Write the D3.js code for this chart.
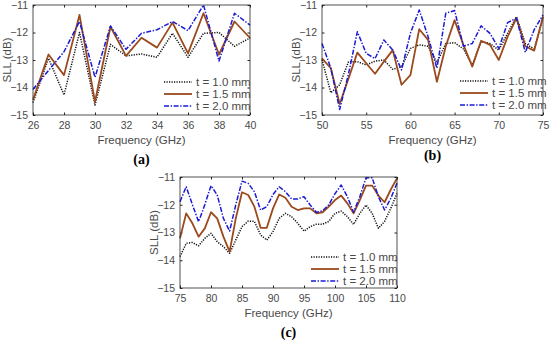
<!DOCTYPE html>
<html>
<head>
<meta charset="utf-8">
<script src="https://cdn.jsdelivr.net/npm/d3@7"></script>
<style>
body { margin: 0; background: #fff; }
text { font-family: "Liberation Sans", Arial, sans-serif; fill: #4a4a4a; }
.cap { font-family: "Liberation Serif", "DejaVu Serif", serif; font-weight: bold; font-size: 14px; fill: #000; }
</style>
</head>
<body>
<svg id="chart" width="550" height="340"></svg>
<script>
// panel (a): 26-40 GHz
var freqA = [26,27,28,29,30,31,32,33,34,35,36,37,38,39,40];
var a_t10 = [-14.55,-12.94,-14.27,-12.0,-14.64,-12.43,-12.85,-12.78,-12.9,-12.03,-12.9,-12.03,-12.0,-12.5,-12.2];
var a_t15 = [-14.45,-12.8,-13.55,-11.36,-14.52,-11.79,-12.85,-12.19,-12.55,-11.64,-12.76,-11.3,-12.8,-11.6,-12.2];
var a_t20 = [-14.07,-13.38,-12.7,-11.6,-13.63,-11.76,-12.61,-12.03,-11.9,-11.6,-11.93,-11.0,-13.04,-11.3,-11.73];

// panel (b): 50-75 GHz
var freqB = [50,51,52,53,54,55,56,57,58,59,60,61,62,63,64,65,66,67,68,69,70,71,72,73,74,75];
var b_t10 = [-12.98,-14.19,-13.9,-13.06,-13.06,-13.18,-13.04,-13.0,-13.34,-13.24,-12.58,-12.45,-12.5,-13.1,-12.4,-12.37,-12.6,-13.18,-12.33,-12.4,-12.64,-12.03,-11.42,-12.4,-12.6,-11.48];
var b_t15 = [-12.94,-13.3,-14.6,-13.67,-12.73,-13.12,-13.5,-13.06,-12.64,-13.9,-13.55,-11.88,-12.27,-13.79,-12.5,-11.55,-12.45,-13.24,-12.3,-12.45,-13.0,-12.15,-11.48,-12.5,-12.66,-11.42];
var b_t20 = [-12.4,-13.3,-14.8,-13.5,-11.97,-12.76,-12.95,-12.27,-12.64,-13.36,-12.03,-11.18,-12.15,-13.3,-11.3,-11.2,-12.5,-12.4,-11.76,-12.03,-12.58,-11.64,-11.48,-12.72,-11.9,-11.36];

// panel (c): 75-110 GHz
var freqC = [75,76,77,78,79,80,81,82,83,84,85,86,87,88,89,90,91,92,93,94,95,96,97,98,99,100,101,102,103,104,105,106,107,108,109,110];
var c_t10 = [-13.87,-13.39,-13.36,-13.48,-13.21,-13.03,-13.33,-13.51,-13.75,-13.27,-12.79,-12.59,-12.6,-13.09,-13.27,-12.97,-12.49,-12.31,-12.43,-12.67,-12.95,-12.79,-12.7,-12.7,-12.6,-12.31,-12.23,-12.43,-12.71,-12.31,-12.01,-12.31,-12.85,-12.6,-12.13,-11.59];
var c_t15 = [-13.21,-12.31,-12.67,-13.15,-12.85,-12.27,-12.49,-13.15,-13.69,-12.49,-11.55,-11.65,-12.07,-12.83,-12.83,-12.13,-11.63,-11.75,-12.07,-12.19,-12.13,-12.13,-12.31,-12.27,-12.07,-11.83,-11.67,-11.95,-12.31,-11.83,-11.31,-11.31,-11.67,-11.91,-11.45,-11.05];
var c_t20 = [-11.89,-11.35,-12.0,-12.61,-12.0,-11.31,-11.65,-12.49,-12.95,-12.0,-11.15,-11.23,-11.53,-12.19,-12.07,-11.63,-11.35,-11.53,-11.79,-11.79,-11.71,-12.01,-12.27,-12.22,-12.0,-11.6,-11.29,-11.71,-12.27,-11.71,-11.03,-11.03,-11.71,-12.19,-11.77,-11.22];

var legendLabels = ["t = 1.0 mm", "t = 1.5 mm", "t = 2.0 mm"];
var yTicks = [-11,-12,-13,-14,-15];

var styles = [
	{color: "#111", width: 1.5, dash: "1.2,1.3"},
	{color: "#9a4a1c", width: 1.8, dash: null},
	{color: "#1a1ad6", width: 1.5, dash: "5,1.6,1.4,1.6"}
];

var svg = d3.select("#chart");

function draw_panel(p){
	var g = svg.append("g");
	var x = d3.scaleLinear().domain(p.xdom).range([p.left, p.right]);
	var y = d3.scaleLinear().domain([-15, -11]).range([p.bottom, p.top]);

	var tl = 2.5;
	g.append("g")
		.attr("transform", "translate(0," + p.bottom + ")")
		.call(d3.axisBottom(x).tickValues(p.xticks).tickSize(-tl).tickPadding(7).tickFormat(d3.format("d")))
		.call(function(s){ s.select(".domain").remove(); });
	g.append("g")
		.attr("transform", "translate(0," + p.top + ")")
		.call(d3.axisTop(x).tickValues(p.xticks).tickSize(-tl).tickFormat(""))
		.call(function(s){ s.select(".domain").remove(); });
	g.append("g")
		.attr("transform", "translate(" + p.left + ",0)")
		.call(d3.axisLeft(y).tickValues(yTicks).tickSize(-tl).tickPadding(5).tickFormat(d3.format("d")))
		.call(function(s){ s.select(".domain").remove(); });
	g.append("g")
		.attr("transform", "translate(" + p.right + ",0)")
		.call(d3.axisRight(y).tickValues(yTicks).tickSize(-tl).tickFormat(""))
		.call(function(s){ s.select(".domain").remove(); });
	g.selectAll("g").attr("font-family", null);
	g.selectAll(".tick line").attr("stroke", "#262626");
	g.selectAll(".tick text").attr("font-size", 10.5).attr("fill", "#4a4a4a");

	var line = d3.line().x(function(d){ return x(d[0]); }).y(function(d){ return y(d[1]); });
	for (var i = 0; i < 3; i++){
		var pts = p.freq.map(function(f, k){ return [f, p.series[i][k]]; });
		g.append("path")
			.datum(pts)
			.attr("d", line)
			.attr("fill", "none")
			.attr("stroke", styles[i].color)
			.attr("stroke-width", styles[i].width)
			.attr("stroke-dasharray", styles[i].dash)
			.attr("stroke-linejoin", "round");
	}

	g.append("rect")
		.attr("x", p.left).attr("y", p.top)
		.attr("width", p.right - p.left).attr("height", p.bottom - p.top)
		.attr("fill", "none").attr("stroke", "#262626").attr("stroke-width", 0.8);

	g.append("text")
		.attr("x", (p.left + p.right)/2).attr("y", p.bottom + 29)
		.attr("text-anchor", "middle").attr("font-size", 11.5)
		.text("Frequency (GHz)");
	g.append("text")
		.attr("transform", "translate(" + (p.left - 22) + "," + ((p.top + p.bottom)/2) + ") rotate(-90)")
		.attr("text-anchor", "middle").attr("font-size", 11.5)
		.text("SLL (dB)");

	for (var i = 0; i < 3; i++){
		var ly = p.legY + i*12;
		g.append("line")
			.attr("x1", p.legX).attr("x2", p.legX + 28)
			.attr("y1", ly).attr("y2", ly)
			.attr("stroke", styles[i].color)
			.attr("stroke-width", styles[i].width)
			.attr("stroke-dasharray", styles[i].dash);
		g.append("text")
			.attr("x", p.legX + 32).attr("y", ly + 4)
			.attr("font-size", 11.5)
			.text(legendLabels[i]);
	}

	g.append("text")
		.attr("class", "cap")
		.attr("x", (p.left + p.right)/2).attr("y", p.capY)
		.attr("text-anchor", "middle")
		.text(p.cap);
}

draw_panel({left: 33, right: 250, top: 5, bottom: 115, xdom: [26, 40], xticks: [26,28,30,32,34,36,38,40],
	freq: freqA, series: [a_t10, a_t15, a_t20], legX: 164, legY: 82, cap: "(a)", capY: 164});
draw_panel({left: 322, right: 543, top: 5, bottom: 115, xdom: [50, 75], xticks: [50,55,60,65,70,75],
	freq: freqB, series: [b_t10, b_t15, b_t20], legX: 460, legY: 81, cap: "(b)", capY: 160});
draw_panel({left: 180, right: 397, top: 177, bottom: 288, xdom: [75, 110], xticks: [75,80,85,90,95,100,105,110],
	freq: freqC, series: [c_t10, c_t15, c_t20], legX: 311, legY: 257, cap: "(c)", capY: 337});
</script>
</body>
</html>
